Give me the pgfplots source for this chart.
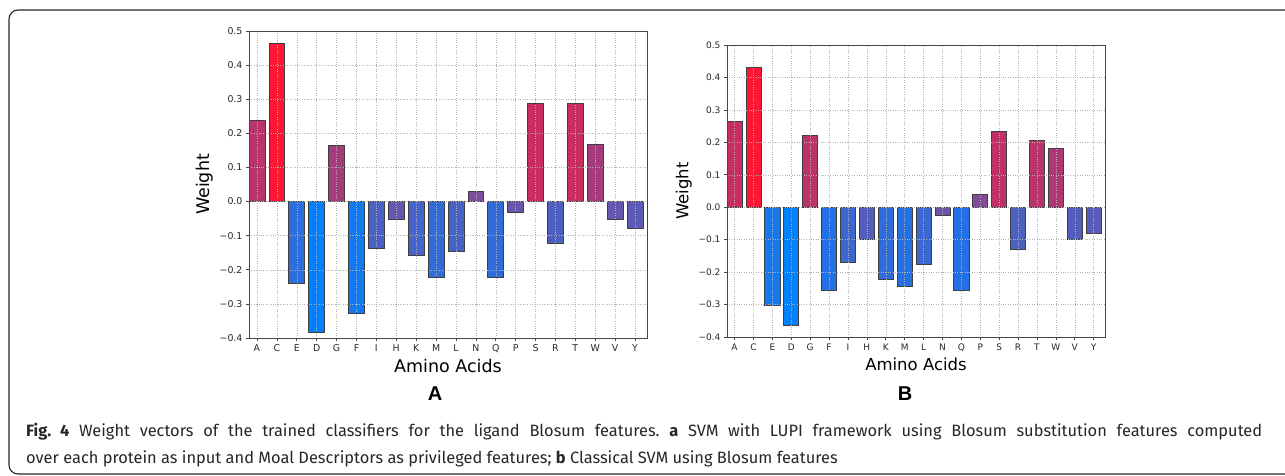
\documentclass[border=0pt]{standalone}
\usepackage{pgfplots}
\pgfplotsset{compat=1.18}
\usepackage{fontspec}
\setmainfont{DejaVu Sans}
\newfontfamily\capfont{Fira Sans}
\newfontfamily\panelfont{Liberation Sans}

\definecolor{cred}{RGB}{255,22,52}
\definecolor{cblue}{RGB}{0,128,255}
\definecolor{framegray}{RGB}{70,70,70}

% one bar: position, weight, share of red in the colour
\newcommand{\wbar}[3]{%
  \addplot[ybar, bar width=0.8, bar shift=0pt, draw=black!75,
    line width=0.7pt, fill=cred!#3!cblue] coordinates {(#1,#2)};}

\pgfplotsset{
  wstyle/.style={
    scale only axis,
    xmin=0, xmax=20, ymin=-0.4, ymax=0.5,
    xtick={0.4,1.4,2.4,3.4,4.4,5.4,6.4,7.4,8.4,9.4,10.4,11.4,12.4,13.4,14.4,15.4,16.4,17.4,18.4,19.4},
    xticklabels={A,C,E,D,G,F,I,H,K,M,L,N,Q,P,S,R,T,W,V,Y},
    ytick={-0.4,-0.3,-0.2,-0.1,0,0.1,0.2,0.3,0.4,0.5},
    yticklabels={−0.4,−0.3,−0.2,−0.1,0.0,0.1,0.2,0.3,0.4,0.5},
    xmajorgrids, ymajorgrids,
    grid style={dotted, black!30, line width=0.5pt},
    axis line style={framegray, line width=0.8pt},
    tick style={framegray, line width=0.6pt},
    tick align=outside, major tick length=3pt,
    xtick pos=bottom, ytick pos=left,
    axis on top,
    xlabel={Amino Acids}, ylabel={Weight},
    tick label style={text=black!85},
    label style={text=black},
  }
}

\begin{document}
\frenchspacing
\begin{tikzpicture}[x=1pt, y=1pt]
\useasboundingbox (0,0) rectangle (1285,476);
\draw[line width=1.1pt, black!85, rounded corners=9pt]
  (1290,466) -- (9,466) -- (9,2) -- (1290,2);

\begin{axis}[wstyle, at={(249pt,138pt)}, anchor=south west,
  width=398pt, height=307pt,
  tick label style={font=\fontsize{9.4}{11}\selectfont},
  label style={font=\fontsize{17.5}{20}\selectfont}]
\wbar{0.4}{0.237}{73}
\wbar{1.4}{0.464}{100}
\wbar{2.4}{-0.240}{17}
\wbar{3.4}{-0.383}{0}
\wbar{4.4}{0.165}{65}
\wbar{5.4}{-0.328}{6}
\wbar{6.4}{-0.138}{29}
\wbar{7.4}{-0.052}{39}
\wbar{8.4}{-0.158}{27}
\wbar{9.4}{-0.222}{19}
\wbar{10.4}{-0.147}{28}
\wbar{11.4}{0.029}{49}
\wbar{12.4}{-0.223}{19}
\wbar{13.4}{-0.033}{41}
\wbar{14.4}{0.289}{79}
\wbar{15.4}{-0.123}{31}
\wbar{16.4}{0.287}{79}
\wbar{17.4}{0.169}{65}
\wbar{18.4}{-0.052}{39}
\wbar{19.4}{-0.078}{36}
\end{axis}

\begin{axis}[wstyle, at={(727pt,139pt)}, anchor=south west,
  width=378pt, height=292pt,
  tick label style={font=\fontsize{9}{11}\selectfont},
  label style={font=\fontsize{16.5}{19}\selectfont}]
\wbar{0.4}{0.265}{79}
\wbar{1.4}{0.431}{100}
\wbar{2.4}{-0.301}{8}
\wbar{3.4}{-0.363}{0}
\wbar{4.4}{0.221}{74}
\wbar{5.4}{-0.255}{14}
\wbar{6.4}{-0.169}{24}
\wbar{7.4}{-0.099}{33}
\wbar{8.4}{-0.223}{18}
\wbar{9.4}{-0.244}{15}
\wbar{10.4}{-0.177}{23}
\wbar{11.4}{-0.025}{43}
\wbar{12.4}{-0.255}{14}
\wbar{13.4}{0.041}{51}
\wbar{14.4}{0.234}{75}
\wbar{15.4}{-0.130}{29}
\wbar{16.4}{0.205}{72}
\wbar{17.4}{0.183}{69}
\wbar{18.4}{-0.098}{33}
\wbar{19.4}{-0.082}{35}
\end{axis}

\node[font=\panelfont\bfseries\fontsize{20}{24}\selectfont] at (435,82) {A};
\node[font=\panelfont\bfseries\fontsize{20}{24}\selectfont] at (905,82) {B};

\node[anchor=base west, inner sep=0pt, text=black!85, font=\capfont\fontsize{16.4}{20}\selectfont] at (26,39)
  {\makebox[1236pt][s]{\textbf{Fig. 4} Weight vectors of the trained classifiers for the ligand Blosum features. \textbf{a} SVM with LUPI framework using Blosum substitution features computed}};
\node[anchor=base west, inner sep=0pt, text=black!85, font=\capfont\fontsize{16.4}{20}\selectfont] at (26,12)
  {over each protein as input and Moal Descriptors as privileged features; \textbf{b} Classical SVM using Blosum features};
\end{tikzpicture}
\end{document}
